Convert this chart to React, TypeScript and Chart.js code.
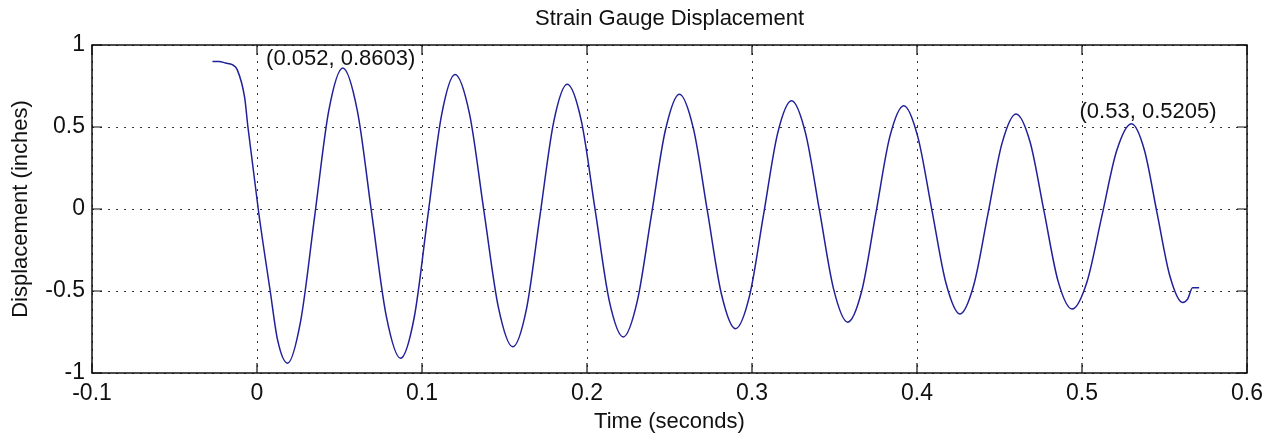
import React, { useEffect, useRef } from "react";
import { Chart, registerables } from "chart.js";

Chart.register(...registerables);

const TITLE = "Strain Gauge Displacement";
const X_LABEL = "Time (seconds)";
const Y_LABEL = "Displacement (inches)";

// Time (s) and displacement (in)
const time = [
  -0.027, -0.023, -0.019, -0.015, -0.012, -0.0075, -0.0055, 0.001, 0.008, 0.0125,
  0.0185, 0.0265, 0.035, 0.0435, 0.052, 0.0608, 0.0695, 0.0783, 0.087, 0.0953,
  0.1035, 0.1118, 0.12, 0.1288, 0.1375, 0.1463, 0.155, 0.1633, 0.1715, 0.1798,
  0.188, 0.1965, 0.205, 0.2135, 0.222, 0.2305, 0.239, 0.2475, 0.256, 0.2645,
  0.273, 0.2815, 0.29, 0.2985, 0.307, 0.3155, 0.324, 0.3325, 0.341, 0.3495,
  0.358, 0.3665, 0.375, 0.3835, 0.392, 0.4005, 0.409, 0.4175, 0.426, 0.4345,
  0.443, 0.4515, 0.46, 0.4685, 0.477, 0.4855, 0.494, 0.503, 0.512, 0.521,
  0.53, 0.5378, 0.5455, 0.5533, 0.561, 0.564, 0.567, 0.571,
];
const displacement = [
  0.9, 0.9, 0.89, 0.88, 0.85, 0.68, 0.5, -0.02, -0.5, -0.8,
  -0.94, -0.68, -0.04, 0.6, 0.86, 0.6, -0.025, -0.65, -0.91, -0.66,
  -0.045, 0.57, 0.82, 0.58, -0.01, -0.6, -0.84, -0.61, -0.04, 0.53,
  0.76, 0.54, -0.01, -0.56, -0.78, -0.56, -0.04, 0.48, 0.7, 0.49,
  -0.015, -0.52, -0.73, -0.53, -0.035, 0.46, 0.66, 0.46, -0.015, -0.49,
  -0.69, -0.5, -0.03, 0.44, 0.63, 0.44, -0.005, -0.45, -0.64, -0.46,
  -0.03, 0.4, 0.58, 0.41, -0.015, -0.44, -0.61, -0.445, -0.045, 0.355,
  0.52, 0.36, -0.025, -0.41, -0.57, -0.55, -0.48, -0.48,
];

const xTicks = [-0.1, 0, 0.1, 0.2, 0.3, 0.4, 0.5, 0.6];
const xTickLabels = ["-0.1", "0", "0.1", "0.2", "0.3", "0.4", "0.5", "0.6"];
const yTicks = [-1, -0.5, 0, 0.5, 1];
const yTickLabels = ["-1", "-0.5", "0", "0.5", "1"];

// Data-tip text labels (text, anchor x, anchor y in data units)
const annotationTexts = ["(0.052, 0.8603)", "(0.53, 0.5205)"];
const annotationX = [0.0055, 0.4985];
const annotationY = [0.915, 0.59];

const FONT = "'Liberation Sans', Arial, Helvetica, sans-serif";
const TEXT_COLOR = "#111";
const LINE_COLOR = "#20209a";
const TICK_LEN = 10;

const matlabPlugin = {
  id: "matlabDecor",
  afterDatasetsDraw(chart: any) {
    const { ctx, chartArea: a, scales } = chart;
    const xs = scales.x;
    const ys = scales.y;
    ctx.save();
    // axes box
    ctx.strokeStyle = "#111";
    ctx.lineWidth = 1.5;
    ctx.setLineDash([]);
    ctx.strokeRect(a.left, a.top, a.right - a.left, a.bottom - a.top);
    // inward tick marks
    ctx.lineWidth = 1.2;
    ctx.beginPath();
    xTicks.forEach((v) => {
      const px = xs.getPixelForValue(v);
      ctx.moveTo(px, a.bottom);
      ctx.lineTo(px, a.bottom - TICK_LEN);
      ctx.moveTo(px, a.top);
      ctx.lineTo(px, a.top + TICK_LEN);
    });
    yTicks.forEach((v) => {
      const py = ys.getPixelForValue(v);
      ctx.moveTo(a.left, py);
      ctx.lineTo(a.left + TICK_LEN, py);
      ctx.moveTo(a.right, py);
      ctx.lineTo(a.right - TICK_LEN, py);
    });
    ctx.stroke();
    // title & axis labels
    ctx.fillStyle = TEXT_COLOR;
    ctx.font = `22px ${FONT}`;
    ctx.textAlign = "center";
    ctx.textBaseline = "alphabetic";
    const cx = (a.left + a.right) / 2;
    ctx.fillText(TITLE, cx, 25);
    ctx.fillText(X_LABEL, cx, 428);
    ctx.save();
    ctx.translate(27, (a.top + a.bottom) / 2);
    ctx.rotate(-Math.PI / 2);
    ctx.fillText(Y_LABEL, 0, 0);
    ctx.restore();
    // data-tip annotations
    ctx.textAlign = "left";
    ctx.textBaseline = "middle";
    annotationTexts.forEach((t, i) => {
      ctx.fillText(t, xs.getPixelForValue(annotationX[i]), ys.getPixelForValue(annotationY[i]));
    });
    ctx.restore();
  },
};

export default function App() {
  const canvasRef = useRef<HTMLCanvasElement | null>(null);

  useEffect(() => {
    const canvas = canvasRef.current;
    if (!canvas) return;
    const points = time.map((t, i) => ({ x: t, y: displacement[i] }));
    const chart = new Chart(canvas, {
      type: "scatter",
      data: {
        datasets: [
          {
            data: points,
            showLine: true,
            borderColor: LINE_COLOR,
            borderWidth: 1.5,
            pointRadius: 0,
            pointHoverRadius: 0,
            cubicInterpolationMode: "monotone",
            fill: false,
          } as any,
        ],
      },
      options: {
        animation: false,
        responsive: true,
        maintainAspectRatio: false,
        events: [],
        layout: { padding: { top: 45, right: 27, bottom: 0, left: 0 } },
        plugins: {
          legend: { display: false },
          tooltip: { enabled: false },
          title: { display: false },
        },
        scales: {
          x: {
            type: "linear",
            min: -0.1,
            max: 0.6,
            afterBuildTicks: (s: any) => {
              s.ticks = xTicks.map((v) => ({ value: v }));
            },
            afterFit: (s: any) => {
              s.height = 67;
            },
            ticks: {
              callback: (v: any) => xTickLabels[xTicks.indexOf(Number(v))] ?? "",
              font: { family: FONT, size: 23 },
              color: TEXT_COLOR,
              padding: 7,
              maxRotation: 0,
              autoSkip: false,
            },
            grid: { color: "#333", lineWidth: 1, drawTicks: false },
            border: { display: false, dash: [2, 6] },
          },
          y: {
            type: "linear",
            min: -1,
            max: 1,
            afterBuildTicks: (s: any) => {
              s.ticks = yTicks.map((v) => ({ value: v }));
            },
            afterFit: (s: any) => {
              s.width = 92;
            },
            ticks: {
              callback: (v: any) => yTickLabels[yTicks.indexOf(Number(v))] ?? "",
              font: { family: FONT, size: 23 },
              color: TEXT_COLOR,
              padding: 7,
              autoSkip: false,
            },
            grid: { color: "#333", lineWidth: 1, drawTicks: false },
            border: { display: false, dash: [2, 6] },
          },
        },
      } as any,
      plugins: [matlabPlugin],
    });
    return () => chart.destroy();
  }, []);

  return (
    <div style={{ position: "absolute", left: 0, top: 0, width: 1274, height: 440, background: "#fff" }}>
      <canvas ref={canvasRef} />
    </div>
  );
}
